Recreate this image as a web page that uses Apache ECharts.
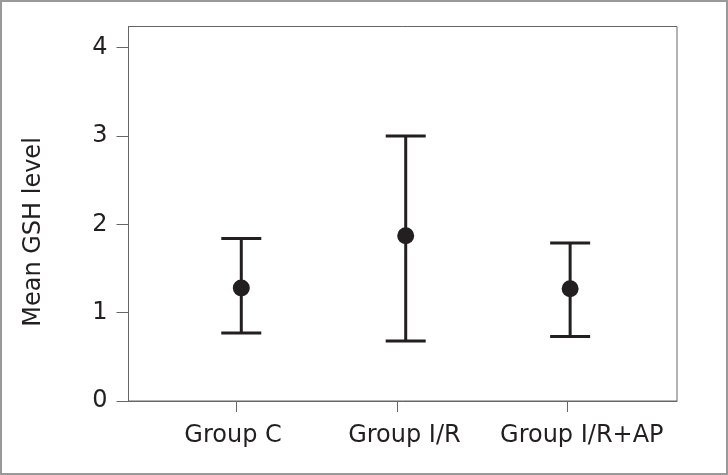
<!DOCTYPE html>
<html>
<head>
<meta charset="utf-8">
<script src="https://cdn.jsdelivr.net/npm/echarts@6/dist/echarts.min.js"></script>
<style>
  html, body { margin: 0; padding: 0; background: #fff; }
  #chart { width: 728px; height: 475px; }
</style>
</head>
<body>
<div id="chart"></div>
<script>
// group names, mean GSH level and the error bar ends
const categories = ['Group C', 'Group I/R', 'Group I/R+AP']
const means = [1.28, 1.87, 1.27]
const upper = [1.84, 3.0, 1.79]
const lower = [0.77, 0.68, 0.73]
const yTicks = [0, 1, 2, 3, 4]

const ink = '#231f20'
const font = '"DejaVu Sans"'
// the original figure has its x ticks and labels a little off the points
const tickShift = [-0.032, -0.05, -0.02]
const labelShift = [-0.05, -0.008, 0.071]

const chart = echarts.init(document.getElementById('chart'))

const barData = categories.map((c, i) => [i, lower[i], upper[i]])
const pointData = categories.map((c, i) => [i, means[i]])

const option = {
  animation: false,
  backgroundColor: '#fff',
  grid: {
    left: 128.5,
    right: 51,
    top: 26.5,
    bottom: 74,
    show: true,
    borderColor: '#666',
    borderWidth: 1
  },
  graphic: [
    {
      type: 'rect',
      shape: { x: 1, y: 1, width: 726, height: 473 },
      style: { fill: 'none', stroke: '#999', lineWidth: 2 },
      silent: true
    },
    {
      type: 'text',
      x: 34,
      y: 232,
      rotation: Math.PI / 2,
      style: {
        text: 'Mean GSH level',
        font: '24px ' + font,
        fill: ink,
        align: 'center',
        verticalAlign: 'middle'
      }
    }
  ],
  xAxis: {
    type: 'value',
    min: -0.686,
    max: 2.65,
    splitLine: { show: false },
    axisLine: { show: true, onZero: false, lineStyle: { color: '#666', width: 1 } },
    axisTick: {
      show: true,
      customValues: categories.map((c, i) => i + tickShift[i]),
      length: 11,
      lineStyle: { color: '#666' }
    },
    axisLabel: {
      customValues: categories.map((c, i) => i + labelShift[i]),
      margin: 23,
      fontFamily: font,
      fontSize: 24,
      color: ink,
      formatter: v => categories[Math.round(v)]
    }
  },
  yAxis: {
    type: 'value',
    min: 0,
    max: 4.24,
    splitLine: { show: false },
    axisLine: { show: true, onZero: false, lineStyle: { color: '#666', width: 1 } },
    axisTick: {
      show: true,
      customValues: yTicks,
      length: 12,
      lineStyle: { color: '#666' }
    },
    axisLabel: {
      customValues: yTicks,
      margin: 21,
      fontFamily: font,
      fontSize: 24,
      color: ink
    }
  },
  series: [
    {
      type: 'custom',
      data: barData,
      renderItem (params, api) {
        const x = api.value(0)
        const lo = api.coord([x, api.value(1)])
        const hi = api.coord([x, api.value(2)])
        const half = 20
        const style = { stroke: ink, lineWidth: 3 }
        return {
          type: 'group',
          children: [
            { type: 'line', shape: { x1: lo[0], y1: lo[1], x2: hi[0], y2: hi[1] }, style },
            { type: 'line', shape: { x1: hi[0] - half, y1: hi[1], x2: hi[0] + half, y2: hi[1] }, style },
            { type: 'line', shape: { x1: lo[0] - half, y1: lo[1], x2: lo[0] + half, y2: lo[1] }, style }
          ]
        }
      },
      z: 2
    },
    {
      type: 'scatter',
      data: pointData,
      symbol: 'circle',
      symbolSize: 17,
      itemStyle: { color: ink, opacity: 1 },
      z: 3
    }
  ]
}

chart.setOption(option)
</script>
</body>
</html>
